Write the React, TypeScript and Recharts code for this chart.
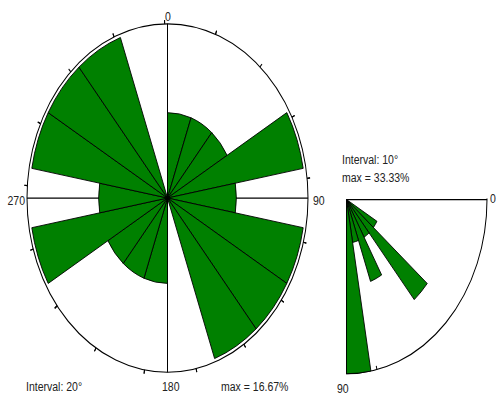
import React from "react";
import {
  RadialBarChart,
  RadialBar,
  PolarAngleAxis,
  PolarRadiusAxis,
  PolarGrid,
} from "recharts";

// The source picture is a circular plot squashed into a taller frame,
// so everything is drawn round and then stretched vertically.
const STRETCH = 1.24;
const GREEN = "#008000";
const R = 140.5;

// Strike rose, 20° bins clockwise from north
const ROSE_BINS = [
  "0-20", "20-40", "40-60", "60-80", "80-100", "100-120", "120-140", "140-160", "160-180",
  "180-200", "200-220", "220-240", "240-260", "260-280", "280-300", "300-320", "320-340", "340-360",
];
const ROSE_PCT = [
  8.33, 8.33, 8.33, 16.67, 8.33, 16.67, 16.67, 16.67, 0,
  8.33, 8.33, 8.33, 16.67, 8.33, 16.67, 16.67, 16.67, 0,
];
const ROSE_MAX = 16.67;
const ROSE_TICKS = [
  0, 10, 20, 30, 40, 50, 60, 70, 80, 90, 100, 110, 120, 130, 140, 150, 160, 170,
  180, 190, 200, 210, 220, 230, 240, 250, 260, 270, 280, 290, 300, 310, 320, 330, 340, 350,
];

// Dip quadrant, 10° bins
const DIP_BINS = ["0-10", "10-20", "20-30", "30-40", "40-50", "50-60", "60-70", "70-80", "80-90"];
const DIP_PCT = [0, 0, 0, 8.33, 25, 8.33, 16.67, 8.33, 33.33];
const DIP_MAX = 33.33;
const DIP_TICKS = [10, 20, 30, 40, 50, 60, 70, 80, 90];

const roseData = ROSE_BINS.map((bin, i) => ({ bin, pct: ROSE_PCT[i] }));
const dipData = DIP_BINS.map((bin, i) => ({ bin, pct: DIP_PCT[i] }));

// recharts starts a category sector one band past startAngle, so the
// angle range is turned back by one bin width
const ROSE_STEP = 20;
const DIP_STEP = 10;

function Txt({
  x,
  y,
  children,
  align = "left",
}: {
  x: number;
  y: number;
  children: React.ReactNode;
  align?: "left" | "center" | "right";
}) {
  const shift = align === "center" ? "translateX(-50%)" : align === "right" ? "translateX(-100%)" : undefined;
  return (
    <div
      style={{
        position: "absolute",
        left: x,
        top: y - 6,
        lineHeight: "12px",
        fontSize: 10.5,
        fontFamily: "'Liberation Sans', Arial, sans-serif",
        color: "#222",
        whiteSpace: "nowrap",
        transform: shift,
      }}
    >
      {children}
    </div>
  );
}

export default function App() {
  return (
    <div
      style={{
        position: "absolute",
        left: 0,
        top: 0,
        width: 496,
        height: 394,
        overflow: "hidden",
        background: "#fff",
      }}
    >
      <div
        style={{
          position: "absolute",
          left: 0,
          top: 0,
          width: 496,
          height: 318,
          transform: `scaleY(${STRETCH})`,
          transformOrigin: "0 0",
        }}
      >
        {/* full rose */}
        <div style={{ position: "absolute", left: 0, top: 0 }}>
          <RadialBarChart
            width={496}
            height={318}
            data={roseData}
            layout="centric"
            cx={167.5}
            cy={159.7}
            innerRadius={0}
            outerRadius={R}
            startAngle={90 - ROSE_STEP}
            endAngle={-270 - ROSE_STEP}
            barCategoryGap={0}
            barGap={0}
            margin={{ top: 0, right: 0, bottom: 0, left: 0 }}
          >
            <PolarAngleAxis dataKey="bin" type="category" tick={false} tickLine={false} axisLine={false} />
            <PolarAngleAxis
              angleAxisId="deg"
              type="number"
              domain={[0, 360]}
              ticks={ROSE_TICKS}
              allowDataOverflow
              tick={false}
              tickLine={{ stroke: "#000" }}
              tickSize={3}
              axisLine={false}
              orientation="outer"
            />
            <PolarRadiusAxis type="number" domain={[0, ROSE_MAX]} tick={false} axisLine={false} />
            <RadialBar dataKey="pct" fill={GREEN} stroke="#000" strokeWidth={0.8} isAnimationActive={false} />
            <PolarGrid gridType="circle" polarRadius={[R]} polarAngles={[90, 0, -90, 180]} stroke="#000" />
          </RadialBarChart>
        </div>

        {/* dip quadrant */}
        <div style={{ position: "absolute", left: 346, top: 160, width: 150, height: 145, overflow: "hidden" }}>
          <div style={{ position: "absolute", left: -346, top: -160 }}>
            <RadialBarChart
              width={496}
              height={318}
              data={dipData}
              layout="centric"
              cx={346.5}
              cy={160.9}
              innerRadius={0}
              outerRadius={R}
              startAngle={-DIP_STEP}
              endAngle={-90 - DIP_STEP}
              barCategoryGap={0}
              barGap={0}
              margin={{ top: 0, right: 0, bottom: 0, left: 0 }}
            >
              <PolarAngleAxis dataKey="bin" type="category" tick={false} tickLine={false} axisLine={false} />
              <PolarAngleAxis
                angleAxisId="deg"
                type="number"
                domain={[DIP_STEP, 90 + DIP_STEP]}
                ticks={DIP_TICKS}
                allowDataOverflow
                tick={false}
                tickLine={{ stroke: "#000" }}
                tickSize={3}
                axisLine={false}
                orientation="inner"
              />
              <PolarRadiusAxis type="number" domain={[0, DIP_MAX]} tick={false} axisLine={false} />
              <RadialBar dataKey="pct" fill={GREEN} stroke="#000" strokeWidth={0.8} isAnimationActive={false} />
              <PolarGrid gridType="circle" polarRadius={[R]} polarAngles={[0, -90]} stroke="#000" />
            </RadialBarChart>
          </div>
        </div>

        <Txt x={168} y={12.9} align="center">0</Txt>
        <Txt x={25} y={161.3} align="right">270</Txt>
        <Txt x={313} y={161.3}>90</Txt>
        <Txt x={162} y={310.9}>180</Txt>
        <Txt x={26} y={310.9}>Interval: 20°</Txt>
        <Txt x={221} y={310.9}>max = 16.67%</Txt>

        <Txt x={342} y={128.2}>Interval: 10°</Txt>
        <Txt x={342} y={143.1}>max = 33.33%</Txt>
        <Txt x={337} y={312.5}>90</Txt>
        <Txt x={490} y={159.7}>0</Txt>
      </div>
    </div>
  );
}
